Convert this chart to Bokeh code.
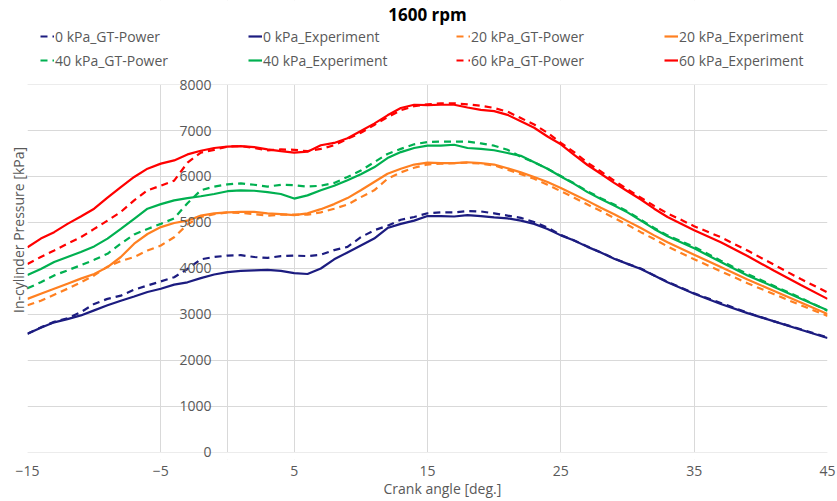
from bokeh.plotting import figure
from bokeh.models import Legend, LegendItem, Title, Range1d, FixedTicker, BoxAnnotation, Label
from bokeh.embed import file_html
from bokeh.resources import INLINE

crank = list(range(-15, 34)) + [35, 37, 39, 41, 43, 45]

p0_gt = [2580, 2720, 2840, 2920, 3050, 3230, 3340, 3410, 3540, 3630, 3720, 3810, 3990, 4200, 4250, 4280,
         4290, 4250, 4230, 4270, 4280, 4270, 4300, 4400, 4470, 4680, 4830, 4930, 5060, 5120, 5200, 5220,
         5220, 5250, 5240, 5200, 5150, 5100, 5010, 4890, 4730, 4610, 4480, 4350, 4220, 4100, 4000, 3850,
         3710, 3460, 3250, 3040, 2850, 2680, 2500]
p0_exp = [2580, 2710, 2830, 2900, 2980, 3090, 3200, 3300, 3390, 3490, 3560, 3650, 3700, 3790, 3870, 3920,
          3950, 3960, 3970, 3950, 3900, 3880, 4000, 4200, 4350, 4500, 4650, 4880, 4970, 5040, 5140, 5140,
          5130, 5160, 5140, 5110, 5090, 5040, 4970, 4860, 4720, 4610, 4470, 4350, 4210, 4100, 3990, 3850,
          3700, 3450, 3230, 3030, 2850, 2670, 2490]
p20_gt = [3200, 3300, 3430, 3560, 3700, 3850, 4040, 4160, 4250, 4390, 4500, 4680, 4960, 5120, 5180, 5220,
          5210, 5180, 5150, 5170, 5170, 5170, 5220, 5300, 5390, 5550, 5700, 5950, 6090, 6190, 6260, 6280,
          6290, 6300, 6280, 6240, 6150, 6050, 5950, 5820, 5680, 5540, 5390, 5250, 5100, 4950, 4790, 4640,
          4480, 4200, 3940, 3680, 3440, 3200, 2970]
p20_exp = [3340, 3450, 3560, 3670, 3780, 3880, 4030, 4250, 4540, 4750, 4900, 4990, 5040, 5150, 5200, 5220,
           5230, 5230, 5200, 5180, 5160, 5200, 5290, 5400, 5530, 5700, 5880, 6060, 6170, 6260, 6300, 6290,
           6290, 6310, 6290, 6260, 6180, 6090, 5990, 5880, 5750, 5610, 5470, 5320, 5180, 5030, 4880, 4720,
           4570, 4300, 4030, 3760, 3510, 3260, 3010]
p40_gt = [3570, 3700, 3850, 3960, 4070, 4190, 4320, 4540, 4740, 4860, 4970, 5090, 5420, 5700, 5780, 5830,
          5850, 5820, 5780, 5820, 5810, 5780, 5800, 5860, 5990, 6130, 6310, 6490, 6600, 6700, 6750, 6760,
          6760, 6760, 6720, 6670, 6580, 6430, 6310, 6170, 6010, 5850, 5680, 5530, 5390, 5240, 5060, 4880,
          4720, 4470, 4170, 3880, 3620, 3360, 3080]
p40_exp = [3860, 3990, 4140, 4250, 4360, 4480, 4650, 4860, 5080, 5300, 5400, 5480, 5530, 5570, 5620, 5680,
           5700, 5690, 5660, 5620, 5520, 5590, 5700, 5800, 5920, 6050, 6200, 6400, 6530, 6620, 6670, 6670,
           6690, 6620, 6600, 6570, 6510, 6450, 6310, 6170, 6000, 5840, 5660, 5510, 5370, 5220, 5040, 4860,
           4700, 4440, 4140, 3850, 3600, 3340, 3090]
p60_gt = [4100, 4250, 4390, 4540, 4680, 4860, 5040, 5230, 5480, 5700, 5800, 5910, 6300, 6520, 6580, 6650,
          6660, 6620, 6570, 6590, 6580, 6550, 6600, 6680, 6820, 6950, 7120, 7290, 7440, 7530, 7570, 7590,
          7590, 7570, 7540, 7490, 7410, 7270, 7130, 6950, 6730, 6530, 6300, 6110, 5910, 5720, 5540, 5360,
          5200, 4920, 4680, 4390, 4080, 3770, 3480]
p60_exp = [4460, 4650, 4790, 4970, 5130, 5300, 5540, 5770, 5990, 6170, 6280, 6350, 6480, 6560, 6620, 6650,
           6660, 6640, 6590, 6550, 6520, 6540, 6680, 6730, 6830, 6990, 7150, 7330, 7490, 7560, 7550, 7560,
           7560, 7500, 7450, 7420, 7340, 7200, 7060, 6870, 6700, 6470, 6250, 6060, 5860, 5680, 5500, 5300,
           5120, 4830, 4570, 4270, 3950, 3640, 3340]

series = [
    ("0 kPa_GT-Power", p0_gt, "#1c1c80", True),
    ("0 kPa_Experiment", p0_exp, "#1c1c80", False),
    ("20 kPa_GT-Power", p20_gt, "#ff8021", True),
    ("20 kPa_Experiment", p20_exp, "#ff8021", False),
    ("40 kPa_GT-Power", p40_gt, "#00b050", True),
    ("40 kPa_Experiment", p40_exp, "#00b050", False),
    ("60 kPa_GT-Power", p60_gt, "#ff0000", True),
    ("60 kPa_Experiment", p60_exp, "#ff0000", False),
]

x_ticks = [-15, -5, 5, 15, 25, 35, 45]
x_grid_lines = [-15, -5, 0, 5, 15, 25, 35, 45]
y_ticks = [0, 1000, 2000, 3000, 4000, 5000, 6000, 7000, 8000]
y_min, y_max = 0, 8000
x_min, x_max = -15, 45

FONT = "Open Sans"
GREY = "#595959"
GRID = "#d9d9d9"

# The frame runs up to the top of the canvas so that the title and legend
# (drawn inside it) are not clipped; the strip above 8000 is masked white.
pad_low = 152.2
pad_high = 1826.1

p = figure(width=837, height=501, output_backend="svg", toolbar_location=None,
           x_range=Range1d(x_min, x_max), y_range=Range1d(y_min - pad_low, y_max + pad_high),
           title=None, min_border_left=27, min_border_right=10, min_border_top=0,
           min_border_bottom=42)
p.outline_line_color = None
p.background_fill_color = "white"
p.border_fill_color = "white"

p.xaxis.ticker = FixedTicker(ticks=x_ticks)
p.yaxis.ticker = FixedTicker(ticks=y_ticks)
p.xgrid.ticker = FixedTicker(ticks=x_grid_lines)
p.ygrid.ticker = FixedTicker(ticks=y_ticks)
p.xgrid.bounds = (x_min - 5, x_max + 5)
p.ygrid.bounds = (y_min - 1000, y_max + 1000)
p.grid.grid_line_color = GRID
p.grid.grid_line_width = 1

p.add_layout(BoxAnnotation(bottom=y_max, fill_color="white", fill_alpha=1, line_alpha=0, level="glyph"))
p.add_layout(BoxAnnotation(top=y_min, fill_color="white", fill_alpha=1, line_alpha=0, level="glyph"))

for ax in (p.xaxis[0], p.yaxis[0]):
    ax.axis_line_color = None
    ax.major_tick_line_color = None
    ax.minor_tick_line_color = None
    ax.major_label_text_font = FONT
    ax.major_label_text_font_size = "14px"
    ax.major_label_text_color = GREY

p.yaxis[0].fixed_location = 0
p.yaxis[0].major_label_standoff = 10
p.xaxis[0].major_label_standoff = 0

xtitle = Title(text="Crank angle [deg.]", align="left", offset=356, vertical_align="top",
               text_font=FONT, text_font_size="14px", text_font_style="normal",
               text_color=GREY, standoff=0)
p.add_layout(xtitle, "below")

ytitle = Title(text="In-cylinder Pressure [kPa]", align="center", text_font=FONT,
               text_font_size="14px", text_font_style="normal", text_color=GREY, standoff=0)
p.add_layout(ytitle, "left")

items = []
for name, ys, color, dashed in series:
    r = p.line(crank, ys, line_color=color, line_width=2.2,
               line_dash="7 5" if dashed else "solid")
    items.append(LegendItem(label=name, renderers=[r]))

legend = Legend(items=items, orientation="horizontal", ncols=4, location=(13, 389),
                glyph_width=14, glyph_height=20, label_height=20, label_standoff=1,
                label_width=189, spacing=4, padding=0, margin=0,
                border_line_alpha=0, background_fill_alpha=0,
                label_text_font=FONT, label_text_font_size="14px", label_text_color=GREY)
p.add_layout(legend, "center")

title = Label(x=400, y=445, x_units="screen", y_units="screen", text="1600 rpm",
              text_font=FONT, text_font_size="17px", text_font_style="bold",
              text_color="#000000", text_align="center", text_baseline="middle")
p.add_layout(title, "center")

open("out.html", "w").write(file_html(p, INLINE))
